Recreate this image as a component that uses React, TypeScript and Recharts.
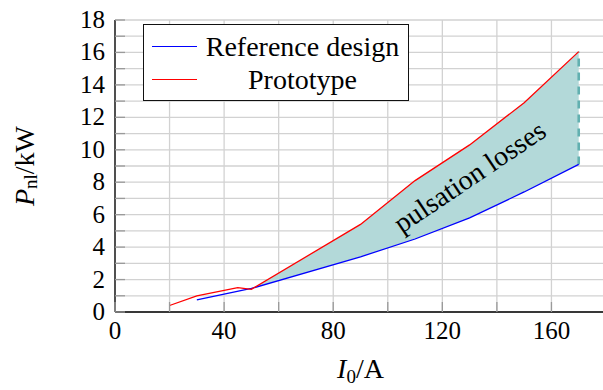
import React from 'react'
import {
  ComposedChart, Line, Area, XAxis, YAxis, CartesianGrid,
  ReferenceLine, ReferenceDot, Legend, Label
} from 'recharts'

// I0 in A, Pnl in kW
const refCurrent = [30, 50, 90, 110, 130, 150, 170]
const refLoss = [0.75, 1.45, 3.4, 4.5, 5.8, 7.4, 9.1]
const protoCurrent = [20, 30, 45, 50, 90, 110, 130, 150, 170]
const protoLoss = [0.4, 1.0, 1.5, 1.4, 5.4, 8.1, 10.3, 12.9, 16.05]

const xTicks = [0, 20, 40, 60, 80, 100, 120, 140, 160, 180]
const xTickLabels = [0, 40, 80, 120, 160]
const yTicks = [0, 1, 2, 3, 4, 5, 6, 7, 8, 9, 10, 11, 12, 13, 14, 15, 16, 17, 18]
const yTickLabels = [0, 2, 4, 6, 8, 10, 12, 14, 16, 18]

const BAND_START = 50

const xs = Array.from(new Set([...refCurrent, ...protoCurrent])).sort((a, b) => a - b)
const data = xs.map(x => {
  const ri = refCurrent.indexOf(x)
  const pi = protoCurrent.indexOf(x)
  const ref = ri >= 0 ? refLoss[ri] : null
  const proto = pi >= 0 ? protoLoss[pi] : null
  const band = x >= BAND_START && ref != null && proto != null ? [ref, proto] : null
  return { x, ref, proto, band }
})

const FONT = 'Liberation Serif'
const TICK_LEN = 10
const TICK_COLOR = '#9a9a9a'
const GRID_COLOR = '#d2d2d2'
const FILL = '#b3d9d9'
const DASH = '#62b0b0'

function BottomTick({ x, y, payload }: any) {
  const v = payload.value
  return (
    <g>
      <line x1={x} x2={x} y1={y} y2={y - TICK_LEN} stroke={TICK_COLOR} strokeWidth={1.3} />
      {xTickLabels.includes(v) && (
        <text x={x} y={y + 27} textAnchor="middle" style={{ fontFamily: FONT, fontSize: 25 }} fill="#000">{v}</text>
      )}
    </g>
  )
}

function TopTick({ x, y }: any) {
  return <line x1={x} x2={x} y1={y} y2={y + TICK_LEN} stroke={TICK_COLOR} strokeWidth={1.3} />
}

function LeftTick({ x, y, payload }: any) {
  const v = payload.value
  return (
    <g>
      <line x1={x} x2={x + TICK_LEN} y1={y} y2={y} stroke={TICK_COLOR} strokeWidth={1.3} />
      {yTickLabels.includes(v) && (
        <text x={x - 10} y={y + 8} textAnchor="end" style={{ fontFamily: FONT, fontSize: 25 }} fill="#000">{v}</text>
      )}
    </g>
  )
}

function RightTick({ x, y }: any) {
  return <line x1={x} x2={x - TICK_LEN} y1={y} y2={y} stroke={TICK_COLOR} strokeWidth={1.3} />
}

const LEGEND_ITEMS = [
  { name: 'Reference design', color: '#0000ff' },
  { name: 'Prototype', color: '#ff0000' },
]

function LegendBox() {
  return (
    <div style={{ width: 266, height: 77, boxSizing: 'border-box', border: '1.4px solid #111', background: '#fff', paddingTop: 5 }}>
      {LEGEND_ITEMS.map(it => (
        <div key={it.name} style={{ display: 'flex', alignItems: 'center', height: 33 }}>
          <span style={{ display: 'inline-block', width: 45, height: 0, borderTop: `1.5px solid ${it.color}`, marginLeft: 8 }} />
          <span style={{ flex: 1, textAlign: 'center', fontFamily: FONT, fontSize: 28, color: '#000', lineHeight: '33px' }}>{it.name}</span>
        </div>
      ))}
    </div>
  )
}

function XTitle({ viewBox }: any) {
  const cx = viewBox.x + viewBox.width / 2
  return (
    <text x={cx} y={viewBox.y + 66} textAnchor="middle" style={{ fontFamily: FONT, fontSize: 28 }} fill="#000">
      <tspan fontStyle="italic">I</tspan>
      <tspan fontSize={19} dy={5}>0</tspan>
      <tspan dy={-5}>/A</tspan>
    </text>
  )
}

function YTitle({ viewBox }: any) {
  const cy = viewBox.y + viewBox.height / 2
  const cx = 24
  return (
    <text x={cx} y={cy} transform={`rotate(-90 ${cx} ${cy})`} textAnchor="middle" dominantBaseline="central" style={{ fontFamily: FONT, fontSize: 28 }} fill="#000">
      <tspan fontStyle="italic">P</tspan>
      <tspan fontSize={19} dy={6}>nl</tspan>
      <tspan dy={-6}>/kW</tspan>
    </text>
  )
}

function BandText({ viewBox }: any) {
  const { x, y } = viewBox
  return (
    <text x={x} y={y} transform={`rotate(-34 ${x} ${y})`} textAnchor="middle" dominantBaseline="central" style={{ fontFamily: FONT, fontSize: 28 }} fill="#000">
      pulsation losses
    </text>
  )
}

export default function App() {
  const lastRef = refLoss[refLoss.length - 1]
  const lastProto = protoLoss[protoLoss.length - 1]
  const lastX = refCurrent[refCurrent.length - 1]

  return (
    <div style={{ position: 'absolute', left: 0, top: 0, width: 603, height: 390, overflow: 'hidden', background: '#fff' }}>
      <ComposedChart width={607} height={390} data={data} margin={{ top: 20, right: 1, bottom: 0, left: 0 }}>
        <CartesianGrid stroke={GRID_COLOR} strokeWidth={1.3} />
        <XAxis
          dataKey="x" type="number" domain={[0, 180]} ticks={xTicks} interval={0}
          height={78} tickSize={0} tickMargin={0} tickLine={false}
          axisLine={{ stroke: '#000', strokeWidth: 1.3 }} tick={<BottomTick />}
        >
          <Label content={<XTitle />} />
        </XAxis>
        <XAxis
          xAxisId="top" orientation="top" dataKey="x" type="number" domain={[0, 180]} ticks={xTicks} interval={0}
          height={0} tickSize={0} tickMargin={0} tickLine={false}
          axisLine={{ stroke: '#000', strokeWidth: 1.3 }} tick={<TopTick />}
        />
        <YAxis
          type="number" domain={[0, 18]} ticks={yTicks} interval={0}
          width={115} tickSize={0} tickMargin={0} tickLine={false}
          axisLine={{ stroke: '#000', strokeWidth: 1.3 }} tick={<LeftTick />}
        >
          <Label content={<YTitle />} />
        </YAxis>
        <YAxis
          yAxisId="right" orientation="right" type="number" domain={[0, 18]} ticks={yTicks} interval={0}
          width={0} tickSize={0} tickMargin={0} tickLine={false}
          axisLine={{ stroke: '#000', strokeWidth: 1.3 }} tick={<RightTick />}
        />
        <Area
          dataKey="band" type="linear" fill={FILL} fillOpacity={1} stroke="none"
          isAnimationActive={false} legendType="none" activeDot={false}
        />
        <ReferenceLine
          segment={[{ x: lastX, y: lastRef }, { x: lastX, y: lastProto }]}
          stroke={DASH} strokeWidth={2.6} strokeDasharray="8 6"
        />
        <Line
          dataKey="ref" name="Reference design" type="linear" stroke="#0000ff" strokeWidth={1.3}
          dot={false} activeDot={false} connectNulls isAnimationActive={false}
        />
        <Line
          dataKey="proto" name="Prototype" type="linear" stroke="#ff0000" strokeWidth={1.3}
          dot={false} activeDot={false} connectNulls isAnimationActive={false}
        />
        <ReferenceDot x={130} y={8.35} r={0} fill="none" stroke="none" label={<BandText />} />
        <Legend
          layout="horizontal" verticalAlign="middle" align="center"
          wrapperStyle={{ left: 143, top: 24, width: 266, height: 77 }}
          content={<LegendBox />}
        />
      </ComposedChart>
    </div>
  )
}
